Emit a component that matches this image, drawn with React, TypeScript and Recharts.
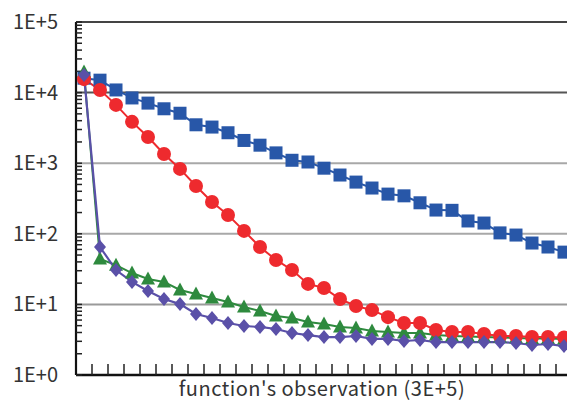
import React from 'react';
import { LineChart, Line, XAxis, YAxis, ReferenceLine } from 'recharts';

// category: observation index (x axis has no tick labels, only boundary ticks)
const observations = [0, 1, 2, 3, 4, 5, 6, 7, 8, 9, 10, 11, 12, 13, 14, 15, 16, 17, 18, 19, 20, 21, 22, 23, 24, 25, 26, 27, 28, 29, 30];

// blue squares
const seriesSquare = [16000, 15000, 10900, 8400, 7100, 5900, 5100, 3500, 3250, 2700, 2100, 1800, 1400, 1100, 1040, 850, 680, 540, 445, 365, 345, 275, 217, 215, 152, 142, 103, 96, 74, 65, 55];
// red circles
const seriesCircle = [15500, 10900, 6700, 3850, 2350, 1350, 830, 475, 282, 185, 110, 65, 42.6, 30.7, 19.5, 17.1, 11.9, 9.5, 8.3, 6.6, 5.45, 5.45, 4.34, 4.06, 4.06, 3.81, 3.57, 3.57, 3.45, 3.45, 3.4];
// green triangles
const seriesTriangle = [19600, 44, 36, 27.8, 22.9, 20.8, 16, 14, 12.3, 10.8, 9.2, 8.07, 6.85, 6.42, 5.63, 5.28, 4.79, 4.63, 4.2, 4.06, 3.93, 3.93, 3.68, 3.57, 3.5, 3.45, 3.4, 3.34, 3.3, 3.3, 3.24];
// purple diamonds
const seriesDiamond = [17750, 65, 30.7, 20.8, 15.5, 11.9, 10.1, 7.3, 6.42, 5.45, 4.94, 4.79, 4.48, 3.93, 3.68, 3.45, 3.45, 3.57, 3.24, 3.24, 3.03, 3.13, 2.93, 2.93, 2.93, 2.93, 2.93, 2.84, 2.66, 2.75, 2.57];

const yMajorTicks = [1, 10, 100, 1000, 10000, 100000];
const yTickLabels = ['1E+0', '1E+1', '1E+2', '1E+3', '1E+4', '1E+5'];
const gridColors = ['#000000', '#9a9a9a', '#a8a8a8', '#a8a8a8', '#555555', '#444444'];
const xAxisTitle = "function's observation (3E+5)";

const COLORS = {
  square: '#2857a8',
  circle: '#ee2a2e',
  triangle: '#2e8a3e',
  diamond: '#5a50a8',
};

const FONT = "'Noto Sans CJK JP', 'Noto Sans', sans-serif";

const data = observations.map((x, i) => ({
  x,
  square: seriesSquare[i],
  circle: seriesCircle[i],
  triangle: seriesTriangle[i],
  diamond: seriesDiamond[i],
}));

const yMinorTicks = yMajorTicks
  .slice(0, -1)
  .flatMap((d) => [2, 3, 4, 5, 6, 7, 8, 9].map((m) => d * m));
const yAllTicks = [...yMajorTicks, ...yMinorTicks].sort((a, b) => a - b);
const xBoundaryTicks = observations.map((x) => x + 0.5);

const YLabelTick = (props: any) => {
  const { x, y, payload } = props;
  const idx = yMajorTicks.indexOf(payload.value);
  if (idx < 0) return <g />;
  return (
    <text x={x - 24} y={y + 7} textAnchor="end" fontSize={20} fill="#333" fontFamily={FONT}>
      {yTickLabels[idx]}
    </text>
  );
};

const EmptyTick = () => <g />;

const XTitle = (props: any) => {
  const vb = props.viewBox || {};
  return (
    <text
      x={vb.x + vb.width / 2 - 2}
      y={vb.y + 21}
      textAnchor="middle"
      fontSize={20}
      letterSpacing={0.5}
      fill="#333"
      fontFamily={FONT}
    >
      {xAxisTitle}
    </text>
  );
};

const SquareDot = (props: any) => {
  const { cx, cy, index } = props;
  if (cx == null || cy == null) return <g key={`s${index}`} />;
  return <rect key={`s${index}`} x={cx - 6.5} y={cy - 6.5} width={13} height={13} fill={COLORS.square} />;
};
const CircleDot = (props: any) => {
  const { cx, cy, index } = props;
  if (cx == null || cy == null) return <g key={`c${index}`} />;
  return <circle key={`c${index}`} cx={cx} cy={cy} r={7} fill={COLORS.circle} />;
};
const TriangleDot = (props: any) => {
  const { cx, cy, index } = props;
  if (cx == null || cy == null) return <g key={`t${index}`} />;
  return (
    <polygon
      key={`t${index}`}
      points={`${cx},${cy - 7.5} ${cx + 7},${cy + 5.5} ${cx - 7},${cy + 5.5}`}
      fill={COLORS.triangle}
    />
  );
};
const DiamondDot = (props: any) => {
  const { cx, cy, index } = props;
  if (cx == null || cy == null) return <g key={`d${index}`} />;
  return (
    <polygon
      key={`d${index}`}
      points={`${cx},${cy - 7} ${cx + 6},${cy} ${cx},${cy + 7} ${cx - 6},${cy}`}
      fill={COLORS.diamond}
    />
  );
};

export default function App() {
  return (
    <div
      style={{
        position: 'absolute',
        left: 0,
        top: 0,
        width: 567,
        height: 402,
        overflow: 'hidden',
        background: '#fff',
      }}
    >
      <LineChart
        width={580}
        height={402}
        data={data}
        margin={{ top: 22, right: 8, left: 0, bottom: 0 }}
      >
        <XAxis
          dataKey="x"
          type="number"
          domain={[-0.5, 30.5]}
          ticks={xBoundaryTicks}
          interval={0}
          height={27}
          tickSize={-11}
          tickMargin={0}
          stroke="#222"
          tickLine={{ stroke: '#222', strokeWidth: 1.5 }}
          tick={<EmptyTick />}
          axisLine={{ stroke: '#111', strokeWidth: 2.5 }}
          label={<XTitle />}
          allowDataOverflow
        />
        <YAxis
          scale="log"
          domain={[1, 100000]}
          ticks={yAllTicks}
          interval={0}
          width={76}
          tickSize={-6}
          tickMargin={0}
          stroke="#222"
          tickLine={{ stroke: '#222', strokeWidth: 1.5 }}
          tick={<YLabelTick />}
          axisLine={{ stroke: '#111', strokeWidth: 2.2 }}
          allowDataOverflow
        />
        {yMajorTicks.slice(1).map((v, i) => (
          <ReferenceLine
            key={v}
            y={v}
            stroke={gridColors[i + 1]}
            strokeWidth={2}
            ifOverflow="extendDomain"
          />
        ))}
        <Line
          dataKey="square"
          stroke={COLORS.square}
          strokeWidth={2}
          dot={SquareDot}
          activeDot={false}
          isAnimationActive={false}
        />
        <Line
          dataKey="triangle"
          stroke={COLORS.triangle}
          strokeWidth={2}
          dot={TriangleDot}
          activeDot={false}
          isAnimationActive={false}
        />
        <Line
          dataKey="circle"
          stroke={COLORS.circle}
          strokeWidth={2}
          dot={CircleDot}
          activeDot={false}
          isAnimationActive={false}
        />
        <Line
          dataKey="diamond"
          stroke={COLORS.diamond}
          strokeWidth={2.2}
          dot={DiamondDot}
          activeDot={false}
          isAnimationActive={false}
        />
      </LineChart>
    </div>
  );
}
